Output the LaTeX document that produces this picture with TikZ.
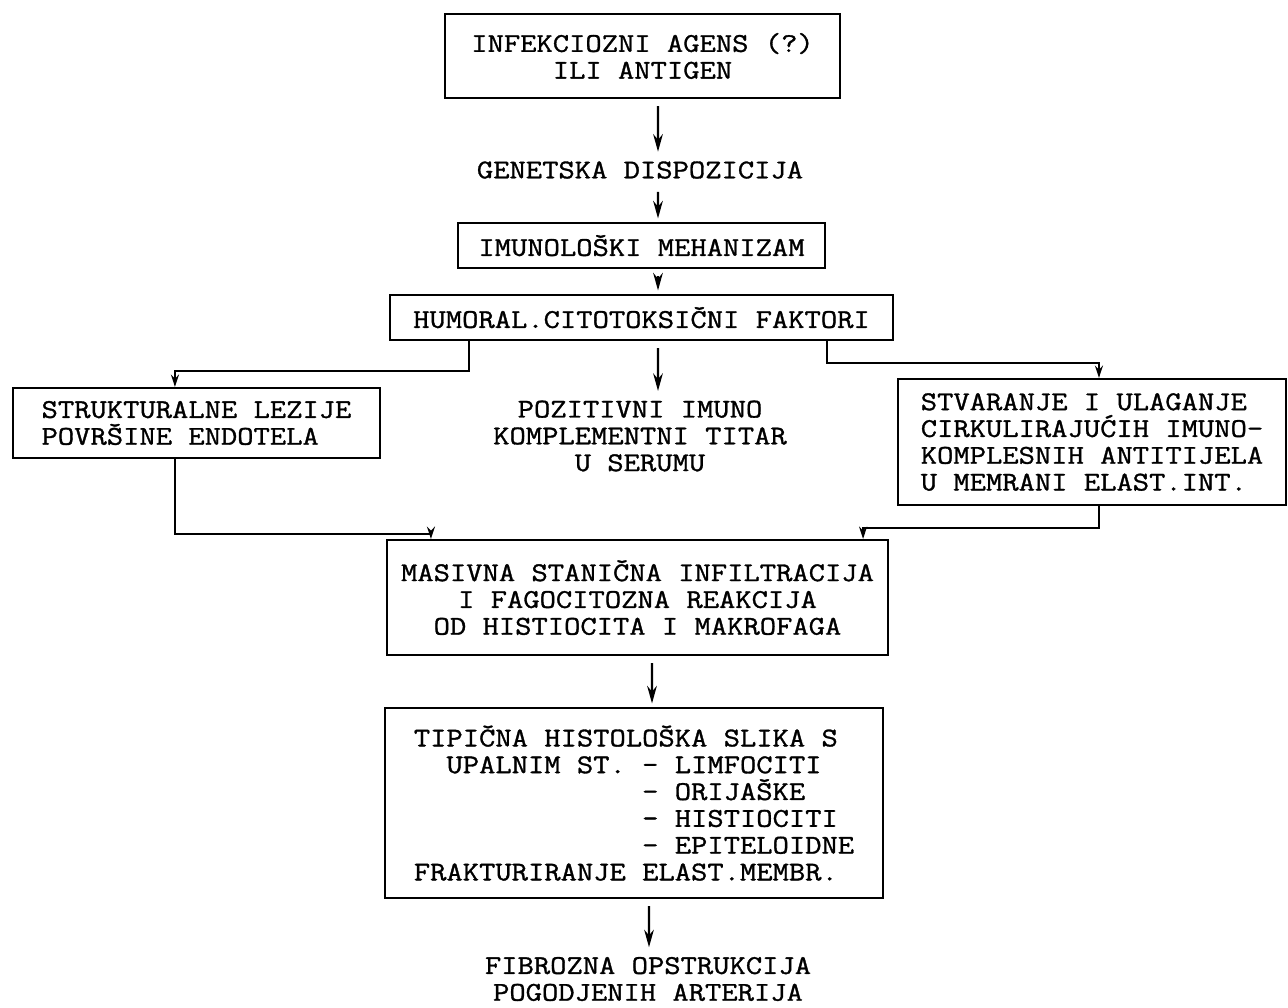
\documentclass[tikz,border=0pt]{standalone}
\usepackage{fontspec}
\newfontfamily\typewr[FakeStretch=1.17,FakeBold=1.2]{Latin Modern Mono}
\usetikzlibrary{arrows.meta}

\begin{document}
\begin{tikzpicture}[>={Stealth[length=10pt,width=5.5pt]},
    every node/.style={font=\typewr\fontsize{15.4pt}{15.25pt}\selectfont},
    blok/.style={draw,line width=1.2pt,inner sep=0pt,align=center},
    tok/.style={->,line width=1.2pt,shorten <=4pt,shorten >=2pt},
    grana/.style={-{Stealth[length=7pt,width=4.5pt]},line width=1.2pt}]
    \useasboundingbox (0,0) rectangle (25.76,-20.14);
    % --- main column ---
    \node[blok,minimum width=7.9cm,minimum height=1.68cm] (agens) at (12.85,-1.12)
      {INFEKCIOZNI AGENS (?)\\ILI ANTIGEN};
    \node[align=center] (genetska) at (12.8,-3.4) {GENETSKA DISPOZICIJA};
    \node[blok,minimum width=7.34cm,minimum height=0.9cm] (imuno) at (12.83,-4.91)
      {IMUNOLOŠKI MEHANIZAM};
    \node[blok,minimum width=10.06cm,minimum height=0.9cm] (humoral) at (12.83,-6.35)
      {HUMORAL.CITOTOKSIČNI FAKTORI};
    \draw[tok] ([xshift=3.1mm]agens.south) -- ([xshift=3.6mm]genetska.north);
    \draw[tok] ([xshift=3.6mm]genetska.south) -- ([xshift=3.3mm]imuno.north);
    \draw[tok] ([xshift=3.3mm]imuno.south) -- ([xshift=3.3mm]humoral.north);
    % --- three branches ---
    \node[blok,minimum width=7.34cm,minimum height=1.4cm,align=left] (lezije) at (3.93,-8.46)
      {STRUKTURALNE LEZIJE\\POVRŠINE ENDOTELA};
    \node[align=center] (pozitivni) at (12.8,-8.72)
      {POZITIVNI IMUNO\\KOMPLEMENTNI TITAR\\U SERUMU};
    \node[blok,minimum width=7.76cm,minimum height=2.52cm,align=left] (stvaranje) at (21.84,-8.84)
      {STVARANJE I ULAGANJE\\CIRKULIRAJUĆIH IMUNO-\\KOMPLESNIH ANTITIJELA\\U MEMRANI ELAST.INT.};
    \draw[grana] ([xshift=1.6cm]humoral.south west) -- ++(0,-0.6)
      -| ([xshift=3.26cm]lezije.north west);
    \draw[tok] ([xshift=3.3mm]humoral.south) -- ([xshift=3.6mm]pozitivni.north);
    \draw[grana] ([xshift=-1.34cm]humoral.south east) -- ++(0,-0.44)
      -| ([xshift=4.04cm]stvaranje.north west);
    % --- joining again ---
    \node[blok,minimum width=10.02cm,minimum height=2.3cm] (masivna) at (12.75,-11.95)
      {MASIVNA STANIČNA INFILTRACIJA\\I FAGOCITOZNA REAKCIJA\\OD HISTIOCITA I MAKROFAGA};
    \draw[grana] ([xshift=3.26cm]lezije.south west) -- ++(0,-1.5)
      -| ([xshift=0.9cm]masivna.north west);
    \draw[grana] ([xshift=4.04cm]stvaranje.south west) -- ++(0,-0.44)
      -| ([xshift=-0.52cm]masivna.north east);
    \node[blok,minimum width=9.96cm,minimum height=3.8cm,align=left] (tipicna) at (12.68,-16.06)
      {TIPIČNA HISTOLOŠKA SLIKA S\\
       \hphantom{XX}UPALNIM ST. - LIMFOCITI\\
       \hphantom{XXXXXXXXXXXXXX}- ORIJAŠKE\\
       \hphantom{XXXXXXXXXXXXXX}- HISTIOCITI\\
       \hphantom{XXXXXXXXXXXXXX}- EPITELOIDNE\\
       FRAKTURIRANJE ELAST.MEMBR.};
    \node[align=center] (fibrozna) at (12.96,-19.58)
      {FIBROZNA OPSTRUKCIJA\\POGODJENIH ARTERIJA};
    \draw[tok] ([xshift=2.9mm]masivna.south) -- ([xshift=3.6mm]tipicna.north);
    \draw[tok] ([xshift=3mm]tipicna.south) -- ([xshift=0.2mm]fibrozna.north);
  \end{tikzpicture}
\end{document}
